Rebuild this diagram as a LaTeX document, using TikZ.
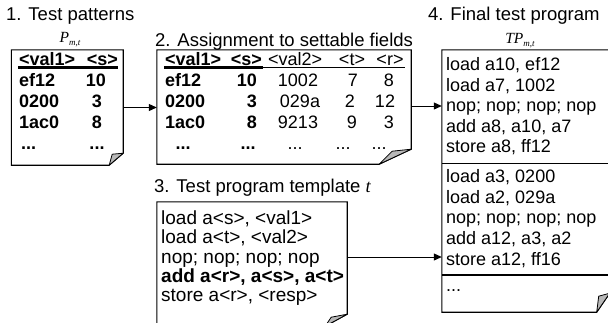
\documentclass[tikz,border=0pt]{standalone}
\usepackage{fontspec}
\setmainfont{Liberation Sans}
\newfontfamily\tmsfont{Liberation Serif}
\usetikzlibrary{arrows.meta}
\tikzset{
  lbl/.style={inner sep=0pt, font=\fontsize{18}{21}\selectfont, anchor=base west},
  blbl/.style={lbl, font=\fontsize{18}{21}\selectfont\bfseries},
  ttl/.style={lbl, font=\fontsize{18.5}{21}\selectfont},
  tlbl/.style={lbl, font=\fontsize{19}{21}\selectfont},
  tblbl/.style={lbl, font=\fontsize{19}{21}\selectfont\bfseries},
  boxnode/.style={draw=none, inner sep=0pt, rectangle},
  outline/.style={draw=black, line width=1.1pt, line join=miter},
  flap/.style={fill=black!28, draw=black, line width=0.8pt, line join=round},
  uline/.style={line width=2.2pt},
  arr/.style={line width=1pt, -{Triangle[length=8pt,width=7pt]}},
  mathlbl/.style={inner sep=0pt, anchor=base, font=\fontsize{15.5}{16}\tmsfont\itshape},
}
\newcommand{\subsc}[1]{{\fontsize{9}{9}\selectfont\raisebox{-3pt}{#1}}}
\begin{document}
\begin{tikzpicture}[x=1pt,y=-1pt]
\useasboundingbox (0,0) rectangle (608,322);

% box frames (invisible nodes)
\node[boxnode, minimum width=111.5pt, minimum height=115pt] (b1) at (67.25,107.5) {};
\node[boxnode, minimum width=254pt, minimum height=114pt] (b2) at (284,107) {};
\node[boxnode, minimum width=190pt, minimum height=124pt] (b3) at (252,264) {};
\node[boxnode, minimum width=167.5pt, minimum height=262pt] (b4) at (525.75,181) {};

% outlines with folded corners
\draw[outline] (b1.north west) -- (b1.north east) -- ([yshift=12pt]b1.south east) -- ([xshift=-14pt]b1.south east) -- (b1.south west) -- cycle;
\draw[flap] ([yshift=12pt]b1.south east) -- ([xshift=-11pt,yshift=11pt]b1.south east) -- ([xshift=-14pt]b1.south east) -- cycle;

\draw[outline] (b2.north west) -- (b2.north east) -- ([yshift=15pt]b2.south east) -- ([xshift=-32pt]b2.south east) -- (b2.south west) -- cycle;
\draw[flap] ([yshift=15pt]b2.south east) -- ([xshift=-19pt,yshift=13pt]b2.south east) -- ([xshift=-32pt]b2.south east) -- cycle;

\draw[outline] (b3.north west) -- (b3.north east) -- ([yshift=12pt]b3.south east) -- ([xshift=-22pt]b3.south east) -- (b3.south west) -- cycle;
\draw[flap] ([yshift=12pt]b3.south east) -- ([xshift=-16pt,yshift=9pt]b3.south east) -- ([xshift=-22pt]b3.south east) -- cycle;

\draw[outline] (b4.north west) -- (b4.north east) -- ([yshift=19pt]b4.south east) -- ([xshift=-13pt]b4.south east) -- (b4.south west) -- cycle;
\draw[flap] ([yshift=19pt]b4.south east) -- ([xshift=-11pt,yshift=16pt]b4.south east) -- ([xshift=-13pt]b4.south east) -- cycle;
\coordinate (d1) at (442,163.5);
\coordinate (d2) at (442,275);
\draw[line width=1.1pt] (d1) -- (d1 -| b4.east);
\draw[line width=1.1pt] (d2) -- (d2 -| b4.east);

% titles
\node[ttl] (t1) at (6,20.5) {1. Test patterns};
\node[ttl] (t2) at (155,46) {2. Assignment to settable fields};
\node[ttl] (t3) at (154,192.5) {3. Test program template {\tmsfont\itshape t}};
\node[ttl] (t4) at (428,20.5) {4. Final test program};
\node[mathlbl] (pmt) at (70,42) {P\subsc{m,t}};
\node[mathlbl] (tpmt) at (520,43) {TP\subsc{m,t}};

% box 1 content
\node[blbl] (h11) at (19,65) {<val1>};
\node[blbl, anchor=base east] (h12) at (118,65) {<s>};
\draw[uline] (18,67.5) -- (118,67.5);
\node[blbl] (r11) at (19,86.5) {ef12};
\node[blbl] (r21) at (19,107.5) {0200};
\node[blbl] (r31) at (19,128.5) {1ac0};
\node[blbl] (r41) at (21,149.5) {...};
\node[blbl, anchor=base] (r12) at (96,86.5) {10};
\node[blbl, anchor=base] (r22) at (97,107.5) {3};
\node[blbl, anchor=base] (r32) at (97,128.5) {8};
\node[blbl, anchor=base] (r42) at (97,149.5) {...};

% box 2 content
\node[blbl] (g11) at (165,65) {<val1>};
\node[blbl, anchor=base east] (g12) at (262,65) {<s>};
\node[lbl] (g13) at (268,65) {<val2>};
\node[lbl, anchor=base] (g14) at (352,65) {<t>};
\node[lbl, anchor=base] (g15) at (390,65) {<r>};
\draw[uline] (164,67.5) -- (263,67.5);
\draw[line width=1.6pt] (263,67.5) -- (405,67.5);
\node[blbl] (s11) at (165,86.5) {ef12};
\node[blbl] (s21) at (165,107.5) {0200};
\node[blbl] (s31) at (165,128.5) {1ac0};
\node[blbl, anchor=base] (s41) at (183,149.5) {...};
\node[blbl, anchor=base east] (s12) at (257,86.5) {10};
\node[blbl, anchor=base east] (s22) at (257,107.5) {3};
\node[blbl, anchor=base east] (s32) at (257,128.5) {8};
\node[blbl, anchor=base] (s42) at (248,149.5) {...};
\node[lbl, anchor=base] (s13) at (298,86.5) {1002};
\node[lbl, anchor=base] (s23) at (300,107.5) {029a};
\node[lbl, anchor=base] (s33) at (298,128.5) {9213};
\node[lbl, anchor=base] (s43) at (295,149.5) {...};
\node[lbl, anchor=base] (s14) at (353,86.5) {7};
\node[lbl, anchor=base] (s24) at (350,107.5) {2};
\node[lbl, anchor=base] (s34) at (352,128.5) {9};
\node[lbl, anchor=base] (s44) at (343,149.5) {...};
\node[lbl, anchor=base] (s15) at (389,86.5) {8};
\node[lbl, anchor=base] (s25) at (385,107.5) {12};
\node[lbl, anchor=base] (s35) at (389,128.5) {3};
\node[lbl, anchor=base] (s45) at (379,149.5) {...};

% box 3 content
\node[tlbl] (p1) at (161,224.5) {load a<s>, <val1>};
\node[tlbl] (p2) at (161,243.8) {load a<t>, <val2>};
\node[tlbl] (p3) at (161,263.1) {nop; nop; nop; nop};
\node[tblbl] (p4) at (161,282.4) {add a<r>, a<s>, a<t>};
\node[tlbl] (p5) at (161,301.7) {store a<r>, <resp>};

% box 4 content
\node[lbl] (q1) at (446,70.5) {load a10, ef12};
\node[lbl] (q2) at (446,91) {load a7, 1002};
\node[lbl] (q3) at (446,111.5) {nop; nop; nop; nop};
\node[lbl] (q4) at (446,132) {add a8, a10, a7};
\node[lbl] (q5) at (446,152.5) {store a8, ff12};
\node[lbl] (q6) at (446,182) {load a3, 0200};
\node[lbl] (q7) at (446,203) {load a2, 029a};
\node[lbl] (q8) at (446,223.5) {nop; nop; nop; nop};
\node[lbl] (q9) at (446,244.5) {add a12, a3, a2};
\node[lbl] (q10) at (446,265.5) {store a12, ff16};
\node[lbl] (q11) at (446,291) {...};

% connectors
\draw[arr] (b1.east) -- (b1.east -| b2.west);
\draw[arr] ([yshift=1pt]b2.east) -- ([yshift=1pt]b2.east -| b4.west);
\coordinate (a3) at ([yshift=7pt]b3.east);
\draw[arr] (a3) -- (a3 -| b4.west);
\end{tikzpicture}
\end{document}
